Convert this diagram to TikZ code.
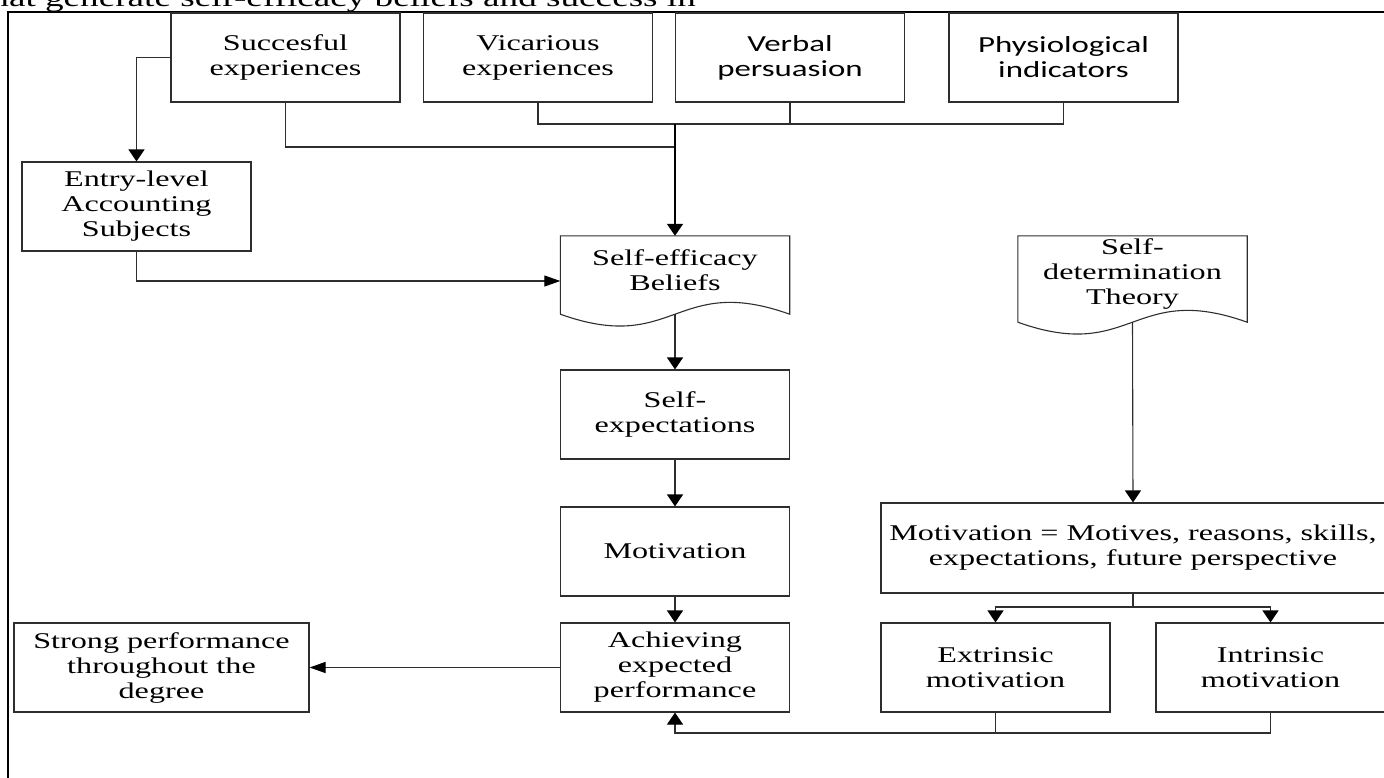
\documentclass[tikz,border=0pt]{standalone}
\usepackage{fontspec}
\setmainfont{Liberation Serif}[FakeStretch=1.43]
\newfontfamily\sansf{Carlito}[FakeStretch=1.43]
\usetikzlibrary{arrows.meta,calc}
\begin{document}
\begin{tikzpicture}[x=1pt,y=-1pt,
  ln/.style={draw=black!82,line width=1.1pt},
  txt/.style={font=\fontsize{22.5}{25}\selectfont},
  box/.style={ln,txt,rectangle,inner sep=0pt,align=center,minimum height=89pt,minimum width=229pt},
  sbox/.style={box,font=\sansf\fontsize{23}{25}\selectfont},
  doc/.style={txt,rectangle,inner sep=0pt,align=center,minimum width=229pt},
  av/.style={ln,-{Triangle[length=12pt,width=16pt,color=black]}},
  ah/.style={ln,-{Triangle[length=16pt,width=11pt,color=black]}},
]
\useasboundingbox (0,0) rectangle (1384,777);
% frame and cut caption
\draw[line width=2.2pt] (8,790) -- (8,12) -- (1400,12);
\node[anchor=base east,inner sep=0pt,font=\fontsize{26}{30}\selectfont] (cap) at (696,6) {that generate self-efficacy beliefs and success in};

% top row
\node[box] (succ) at (285.5,57.5) {Succesful\\experiences};
\node[box] (vic) at (538,57.5) {Vicarious\\experiences};
\node[sbox] (verb) at (790,57.5) {Verbal\\persuasion};
\node[sbox] (phys) at (1063.5,57.5) {Physiological\\indicators};

\node[box] (entry) at (136.5,206.5) {Entry-level\\Accounting\\Subjects};

% documents
\node[doc,minimum height=68pt] (sebel) at (675,270) {Self-efficacy\\Beliefs};
\node[doc,minimum height=76pt] (sdt) at (1132.5,274) {Self-\\determination\\Theory};
\foreach \d in {sebel,sdt}{
  \draw[ln] ($(\d.south west)+(0,10)$) -- (\d.north west) -- (\d.north east) -- ($(\d.south east)+(0,10)$)
    .. controls ($(\d.south)+(0,-31)$) and ($(\d.south)+(0,51)$) .. ($(\d.south west)+(0,10)$);
}

\node[box] (sexp) at (675,414.5) {Self-\\expectations};
\node[box] (motiv) at (675,551.5) {Motivation};
\node[box] (achv) at (675,667.5) {Achieving\\expected\\performance};
\node[box,minimum width=295pt] (strong) at (161.5,667.5) {Strong performance\\throughout the\\degree};

\node[box,minimum width=504pt,minimum height=90pt] (mot2) at (1133,548) {Motivation = Motives, reasons, skills,\\expectations, future perspective};
\node[box] (extr) at (995.5,667.5) {Extrinsic\\motivation};
\node[box] (intr) at (1270.5,667.5) {Intrinsic\\motivation};

% junction coordinates
\coordinate (j1) at (675,124);
\coordinate (j2) at (675,147);
\coordinate (br) at (1133,607);
\coordinate (bt) at (995.5,733);

% connectors top
\draw[ln] (succ.south) |- (j2);
\draw[ln] (vic.south) |- (j1) -| (phys.south);
\draw[ln] (verb.south) -- (verb.south |- j1);
\draw[av,line width=1.8pt,draw=black] (j1) -- (sebel.north);
\draw[av] (succ.west) -| (entry.north);
\draw[ah] (entry.south) |- ([yshift=-11pt]sebel.west);

% main column
\draw[av] ([yshift=-10pt]sebel.south) -- (sexp.north);
\draw[av] (sexp.south) -- (motiv.north);
\draw[av] (motiv.south) -- (achv.north);
\draw[ah] (achv.west) -- (strong.east);

% right column
\draw[av] ([yshift=-10pt]sdt.south) -- (mot2.north);
\draw[ln] (mot2.south) -- (br);
\draw[av] (br) -| (extr.north);
\draw[av] (br) -| (intr.north);
\draw[ln] (intr.south) |- (bt);
\draw[av] (extr.south) -- (bt) -| (achv.south);
\end{tikzpicture}
\end{document}
